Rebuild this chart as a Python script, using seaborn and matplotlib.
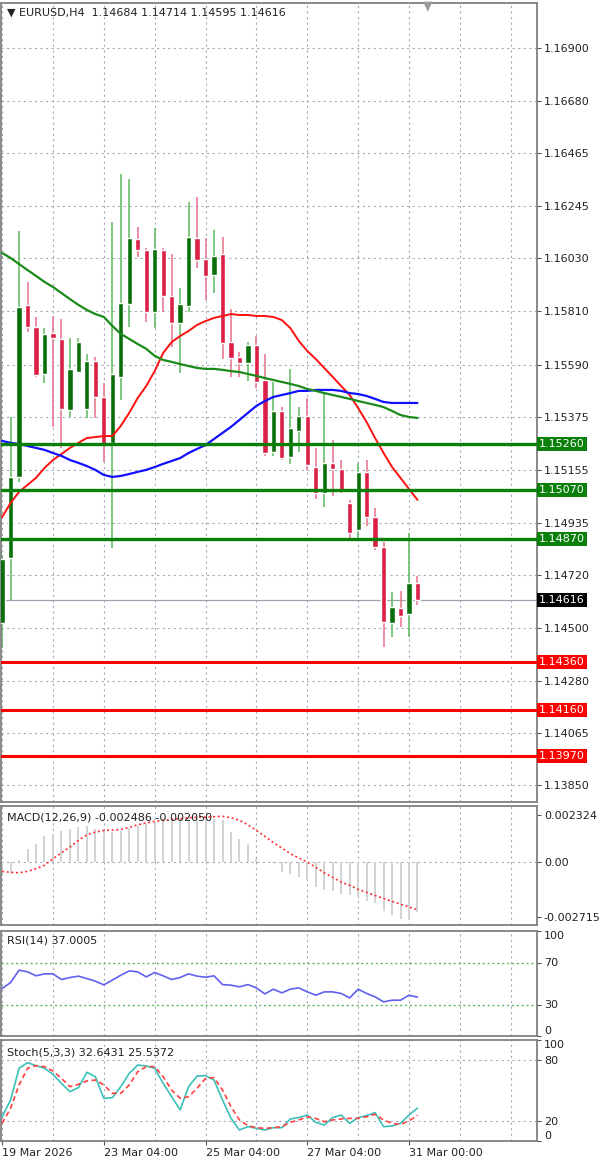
import matplotlib
matplotlib.use("Agg")
from matplotlib import pyplot as plt
import matplotlib.transforms as mtransforms
import numpy as np
import seaborn as sns

# EURUSD H4 candles
opens = [1.14521, 1.14790, 1.15125, 1.15837, 1.15745, 1.15551, 1.15721, 1.15696, 1.15402, 1.15559,
         1.15406, 1.15605, 1.15456, 1.15265, 1.15539, 1.15841, 1.16110, 1.16064, 1.15808, 1.16064,
         1.15874, 1.15762, 1.15832, 1.16114, 1.16027, 1.15961, 1.16048, 1.15683, 1.15621, 1.15597,
         1.15671, 1.15526, 1.15228, 1.15398, 1.15208, 1.15315, 1.15377, 1.15166, 1.15059, 1.15183,
         1.15158, 1.15017, 1.14905, 1.15145, 1.14959, 1.14835, 1.14521, 1.14583, 1.14558, 1.14684]
highs = [1.14802, 1.15373, 1.16143, 1.15932, 1.15787, 1.15741, 1.15791, 1.15779, 1.15700, 1.15700,
         1.15634, 1.15621, 1.15514, 1.16180, 1.16379, 1.16358, 1.16159, 1.16072, 1.16155, 1.16072,
         1.16048, 1.15907, 1.16263, 1.16283, 1.16114, 1.16147, 1.16118, 1.15820, 1.15642, 1.15683,
         1.15708, 1.15634, 1.15518, 1.15414, 1.15572, 1.15414, 1.15452, 1.15245, 1.15472, 1.15278,
         1.15195, 1.15030, 1.15183, 1.15195, 1.14997, 1.14856, 1.14649, 1.14653, 1.14893, 1.14714]
lows = [1.14417, 1.14616, 1.15104, 1.15725, 1.15539, 1.15514, 1.15332, 1.15245, 1.15373, 1.15555,
        1.15369, 1.15369, 1.15187, 1.14831, 1.15443, 1.15745, 1.16035, 1.15766, 1.15741, 1.15808,
        1.15663, 1.15555, 1.15808, 1.15990, 1.15857, 1.15886, 1.15613, 1.15539, 1.15539, 1.15522,
        1.15493, 1.15212, 1.15212, 1.15195, 1.15179, 1.15228, 1.15154, 1.15034, 1.15001, 1.15046,
        1.15059, 1.14864, 1.14872, 1.14922, 1.14823, 1.14421, 1.14463, 1.14504, 1.14463, 1.14595]
closes = [1.14785, 1.15125, 1.15828, 1.15745, 1.15547, 1.15717, 1.15700, 1.15406, 1.15572, 1.15683,
          1.15605, 1.15456, 1.15257, 1.15551, 1.15845, 1.16114, 1.16064, 1.15808, 1.16068, 1.15874,
          1.15762, 1.15841, 1.16118, 1.16023, 1.15957, 1.16039, 1.15679, 1.15617, 1.15597, 1.15671,
          1.15518, 1.15224, 1.15398, 1.15203, 1.15328, 1.15377, 1.15174, 1.15059, 1.15183, 1.15158,
          1.15067, 1.14893, 1.15145, 1.14959, 1.14835, 1.14525, 1.14587, 1.14550, 1.14686, 1.14616]

# moving averages
ma_red = [1.14959, 1.15017, 1.15063, 1.15092, 1.15121, 1.15162, 1.15195, 1.15220, 1.15245, 1.15266,
          1.15286, 1.15290, 1.15294, 1.15294, 1.15336, 1.15390, 1.15452, 1.15501, 1.15563, 1.15638,
          1.15683, 1.15708, 1.15729, 1.15754, 1.15770, 1.15783, 1.15791, 1.15799, 1.15795, 1.15795,
          1.15791, 1.15791, 1.15787, 1.15774, 1.15741, 1.15688, 1.15646, 1.15613, 1.15576, 1.15539,
          1.15501, 1.15464, 1.15410, 1.15352, 1.15286, 1.15224, 1.15166, 1.15121, 1.15075, 1.15030]
ma_blue = [1.15274, 1.15266, 1.15261, 1.15253, 1.15245, 1.15237, 1.15224, 1.15212, 1.15195, 1.15183,
           1.15170, 1.15154, 1.15133, 1.15125, 1.15129, 1.15137, 1.15146, 1.15154, 1.15166, 1.15179,
           1.15191, 1.15203, 1.15224, 1.15241, 1.15257, 1.15282, 1.15307, 1.15332, 1.15361, 1.15390,
           1.15419, 1.15439, 1.15456, 1.15464, 1.15472, 1.15481, 1.15481, 1.15485, 1.15485, 1.15485,
           1.15481, 1.15472, 1.15468, 1.15460, 1.15448, 1.15435, 1.15431, 1.15431, 1.15431, 1.15431]
ma_green = [1.16052, 1.16031, 1.16006, 1.15981, 1.15957, 1.15932, 1.15911, 1.15886, 1.15861, 1.15837,
            1.15816, 1.15799, 1.15787, 1.15750, 1.15717, 1.15696, 1.15675, 1.15655, 1.15626, 1.15609,
            1.15601, 1.15592, 1.15584, 1.15576, 1.15572, 1.15572, 1.15568, 1.15563, 1.15559, 1.15551,
            1.15543, 1.15534, 1.15526, 1.15518, 1.15510, 1.15501, 1.15489, 1.15481, 1.15472, 1.15464,
            1.15456, 1.15448, 1.15439, 1.15431, 1.15423, 1.15414, 1.15398, 1.15381, 1.15373, 1.15369]

# MACD(12,26,9)
macd_main = [-0.00055, -0.00060, 0.00010, 0.00064, 0.00089, 0.00130, 0.00138, 0.00155, 0.00163, 0.00174,
             0.00179, 0.00163, 0.00155, 0.00147, 0.00155, 0.00168, 0.00179, 0.00188, 0.00196, 0.00204,
             0.00210, 0.00214, 0.00217, 0.00214, 0.00217, 0.00214, 0.00206, 0.00148, 0.00115, 0.00089,
             0.00016, 0.00002, -0.00004, -0.00049, -0.00058, -0.00074, -0.00090, -0.00124, -0.00136, -0.00145,
             -0.00157, -0.00165, -0.00175, -0.00190, -0.00200, -0.00240, -0.00260, -0.00280, -0.00282, -0.00249]
macd_signal = [-0.00046, -0.00051, -0.00053, -0.00046, -0.00033, -0.00016, 0.00016, 0.00046, 0.00074, 0.00107,
               0.00135, 0.00148, 0.00156, 0.00158, 0.00161, 0.00171, 0.00184, 0.00193, 0.00201, 0.00206,
               0.00211, 0.00214, 0.00219, 0.00221, 0.00222, 0.00224, 0.00226, 0.00219, 0.00206, 0.00184,
               0.00156, 0.00127, 0.00096, 0.00069, 0.00041, 0.00020, 0.00000, -0.00026, -0.00053, -0.00076,
               -0.00099, -0.00115, -0.00135, -0.00150, -0.00165, -0.00180, -0.00194, -0.00208, -0.00222, -0.00236]

# RSI(14)
rsi = [45.2, 50.9, 62.7, 61.1, 57.3, 59.2, 59.2, 53.8, 55.7, 57.0,
       54.7, 52.2, 48.7, 53.2, 57.9, 62.0, 61.1, 56.3, 60.5, 57.3,
       53.8, 55.7, 59.2, 57.0, 56.0, 57.3, 49.0, 48.4, 46.8, 49.0,
       45.8, 40.1, 44.6, 41.1, 44.6, 45.8, 42.0, 38.9, 42.0, 42.0,
       40.5, 36.3, 44.6, 40.5, 37.3, 32.5, 34.1, 34.1, 38.9, 37.0]

# Stoch(5,3,3)
stoch_k = [24.0, 40.6, 72.0, 77.6, 74.6, 72.0, 66.0, 57.0, 48.9, 52.8,
           68.0, 63.7, 42.2, 42.9, 53.8, 67.0, 75.2, 74.3, 72.0, 57.0,
           43.9, 30.8, 53.8, 64.3, 64.7, 60.4, 40.6, 22.5, 10.9, 14.2,
           12.6, 10.9, 13.2, 13.2, 21.8, 23.2, 25.7, 18.5, 15.8, 23.2,
           25.7, 17.5, 23.2, 25.2, 28.1, 14.2, 14.9, 17.5, 25.7, 32.6]
stoch_d = [17.5, 32.3, 55.5, 72.0, 74.6, 73.6, 69.3, 62.0, 53.8, 56.1,
           59.4, 60.4, 55.5, 47.2, 47.2, 55.5, 68.6, 73.6, 73.6, 63.7,
           50.5, 42.2, 43.9, 52.2, 62.0, 62.7, 50.5, 34.0, 20.8, 15.2,
           13.2, 12.5, 13.2, 14.2, 18.5, 20.8, 24.0, 22.4, 19.1, 20.8,
           21.8, 22.4, 22.4, 24.0, 26.4, 20.8, 17.5, 16.5, 19.8, 25.5]

price_ticks = [1.16900, 1.16680, 1.16465, 1.16245, 1.16030, 1.15810, 1.15590, 1.15375,
               1.15155, 1.14935, 1.14720, 1.14500, 1.14280, 1.14065, 1.13850]
resist_lines = [1.15260, 1.15070, 1.14870]
support_lines = [1.14360, 1.14160, 1.13970]
last_price = 1.14616
date_labels = ["19 Mar 2026", "23 Mar 04:00", "25 Mar 04:00", "27 Mar 04:00", "31 Mar 00:00"]
date_bars = [0, 12, 24, 36, 48]

sns.set_style("white")
plt.rcParams['font.family'] = ['DejaVu Sans']

bars = np.arange(len(opens))
xlim = (-0.13, 63.1)
grid_x = np.arange(0, 61, 6)
grid_kw = dict(color='#a4abb8', linestyle=(0, (2, 3)), lw=0.8, zorder=0)
frame_col = '#808080'

fig = plt.figure(figsize=(6, 11.63), dpi=100)
W, H = 600, 1163


def panel(x0, y0, x1, y1):
    a = fig.add_axes([x0 / W, 1 - y1 / H, (x1 - x0) / W, (y1 - y0) / H])
    for s in a.spines.values():
        s.set_color(frame_col)
        s.set_linewidth(1.3)
    a.set_xlim(*xlim)
    a.yaxis.tick_right()
    a.tick_params(axis='y', length=3, color='#555555', labelsize=8, pad=2, labelcolor='#222222')
    a.tick_params(axis='x', bottom=False, labelbottom=False)
    for gx in grid_x:
        a.axvline(gx, **grid_kw)
    return a


# ---- main price panel ----
ax = panel(1, 3, 537, 802)
ax.set_ylim(1.137797, 1.170862)
ax.set_yticks(price_ticks)
ax.set_yticklabels([f"{v:.5f}" for v in price_ticks])
for v in price_ticks:
    ax.axhline(v, **grid_kw)

o = np.array(opens); c = np.array(closes)
up = c >= o
wick_col = np.where(up, '#5cb85c', '#e8728c')
body_col = np.where(up, '#0a6e0a', '#dc1f45')
ax.vlines(bars, lows, highs, colors=wick_col, lw=1.1, zorder=2)
ax.bar(bars, np.maximum(np.abs(c - o), 0.00003), bottom=np.minimum(o, c), width=0.62,
       color=body_col, zorder=3)

sns.lineplot(x=bars, y=ma_red, ax=ax, color='#ff1010', lw=1.4, zorder=4)
sns.lineplot(x=bars, y=ma_blue, ax=ax, color='#1010ff', lw=1.6, zorder=4)
sns.lineplot(x=bars, y=ma_green, ax=ax, color='#1a8a1a', lw=1.6, zorder=4)

ax.axhline(last_price, color='#9aa3ad', lw=0.9, zorder=1)
for v in resist_lines:
    ax.axhline(v, color='#0a800a', lw=2.4, zorder=5)
for v in support_lines:
    ax.axhline(v, color='#ff0000', lw=2.2, zorder=5)

trans = mtransforms.blended_transform_factory(ax.transAxes, ax.transData)
for v, col in [(v, '#0a800a') for v in resist_lines] + [(v, '#ff0000') for v in support_lines] + [(last_price, '#000000')]:
    ax.text(1.004, v, f"{v:.5f}", transform=trans, color='white', fontsize=8, va='center', ha='left',
            bbox=dict(boxstyle='square,pad=0.18', fc=col, ec='none'), clip_on=False, zorder=10)

ax.text(0.012, 0.994, "\u25BC EURUSD,H4  1.14684 1.14714 1.14595 1.14616", transform=ax.transAxes,
        va='top', ha='left', fontsize=8, color='#222222')
fig.text(428 / W, 1 - 6 / H, "\u25BC", color='#9a9a9a', fontsize=9, ha='center', va='center')

# ---- MACD ----
axm = panel(1, 806, 537, 925)
axm.set_ylim(-0.003110, 0.002769)
axm.set_yticks([0.002324, 0.0, -0.002715])
axm.set_yticklabels(["0.002324", "0.00", "-0.002715"])
axm.axhline(0, **grid_kw)
axm.vlines(bars, 0, macd_main, colors='#d2d2d2', lw=1.4, zorder=2)
sns.lineplot(x=bars, y=macd_signal, ax=axm, color='#ff3030', lw=1.2, linestyle=(0, (1.2, 1.6)), zorder=3)
axm.text(0.012, 0.90, "MACD(12,26,9) -0.002486 -0.002050", transform=axm.transAxes,
         va='center', ha='left', fontsize=8, color='#222222')

# ---- RSI ----
axr = panel(1, 931, 537, 1036)
axr.set_ylim(0, 100)
axr.set_yticks([100, 70, 30, 0])
axr.set_yticklabels(["100", "70", "30", "0"])
lbl = axr.get_yticklabels()
lbl[0].set_va('top'); lbl[3].set_va('bottom')
for lv in [70, 30]:
    axr.axhline(lv, color='#5cb85c', linestyle=(0, (1.5, 2)), lw=1.0, zorder=1)
sns.lineplot(x=bars, y=rsi, ax=axr, color='#6060f0', lw=1.2, zorder=3)
axr.text(0.012, 0.91, "RSI(14) 37.0005", transform=axr.transAxes,
         va='center', ha='left', fontsize=8, color='#222222')

# ---- Stochastic ----
axs = panel(1, 1040, 537, 1141)
axs.set_ylim(0, 100)
axs.set_yticks([100, 80, 20, 0])
axs.set_yticklabels(["100", "80", "20", "0"])
lbl = axs.get_yticklabels()
lbl[0].set_va('top'); lbl[3].set_va('bottom')
for lv in [80, 20]:
    axs.axhline(lv, **grid_kw)
sns.lineplot(x=bars, y=stoch_k, ax=axs, color='#3cc0b8', lw=1.2, zorder=3)
sns.lineplot(x=bars, y=stoch_d, ax=axs, color='#ff4040', lw=1.2, linestyle=(0, (3, 2)), zorder=3)
axs.text(0.012, 0.88, "Stoch(5,3,3) 32.6431 25.5372", transform=axs.transAxes,
         va='center', ha='left', fontsize=8, color='#222222')
axs.set_xticks(date_bars)
axs.set_xticklabels(date_labels, ha='left')
axs.tick_params(axis='x', bottom=True, labelbottom=True, length=3, color='#555555',
                labelsize=8, pad=2, labelcolor='#222222')

fig.savefig("out.png", dpi=100)
